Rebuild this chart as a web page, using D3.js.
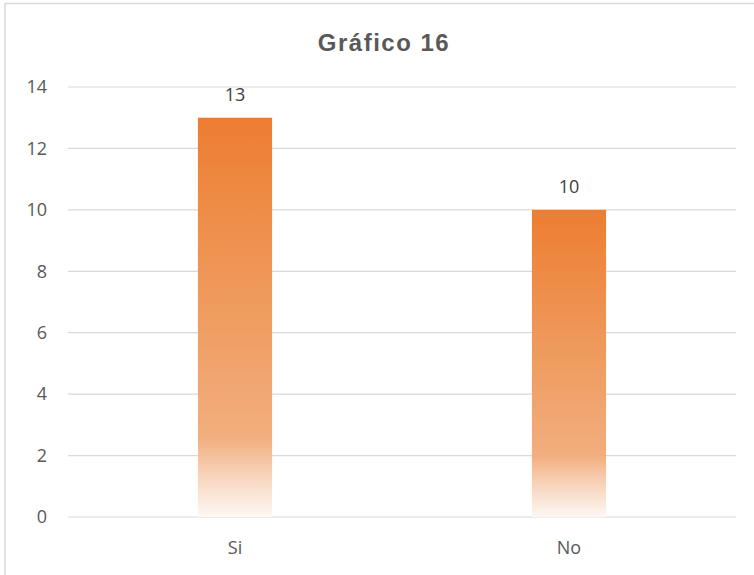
<!DOCTYPE html>
<html><head><meta charset="utf-8">
<script src="https://cdn.jsdelivr.net/npm/d3@7"></script>
<style>body{margin:0;background:#fff}svg{display:block}</style>
</head><body>
<script>
const categories = ["Si", "No"];
const values = [13, 10];
const yTicks = [0, 2, 4, 6, 8, 10, 12, 14];
const title = "Gráfico 16";

const W = 754, H = 575;
const svg = d3.select("body").append("svg").attr("width", W).attr("height", H);

const defs = svg.append("defs");
const grad = defs.append("linearGradient").attr("id", "barGrad")
  .attr("x1", 0).attr("y1", 0).attr("x2", 0).attr("y2", 1);
[[0, "#ED7D31", 1], [0.45, "#EF9A5C", 1], [0.8, "#F2AE7E", 1], [0.89, "#F7D2B8", 1], [1, "#FDF8F4", 1]]
  .forEach(([o, c, op]) => grad.append("stop").attr("offset", o).attr("stop-color", c).attr("stop-opacity", op));

// chart border (top & left visible)
svg.append("line").attr("x1", 5).attr("x2", W).attr("y1", 3.5).attr("y2", 3.5).attr("stroke", "#d9d9d9").attr("stroke-width", 1.5);
svg.append("line").attr("x1", 5).attr("x2", 5).attr("y1", 3).attr("y2", H).attr("stroke", "#d9d9d9").attr("stroke-width", 1.5);

const x = d3.scaleBand().domain(categories).range([68, 736]).paddingInner(0.778).paddingOuter(0.389);
const y = d3.scaleLinear().domain([0, 14]).range([517, 87]);

// gridlines
svg.append("g").selectAll("line").data(yTicks).join("line")
  .attr("x1", 68).attr("x2", 736)
  .attr("y1", d => y(d)).attr("y2", d => y(d))
  .attr("stroke", "#d9d9d9").attr("stroke-width", 1.2);

const font = "'Open Sans', sans-serif";

// y axis labels
const yAxis = d3.axisLeft(y).tickValues(yTicks).tickSize(0).tickPadding(0);
const gy = svg.append("g").attr("transform", "translate(47,0)").call(yAxis);
gy.select(".domain").remove();
gy.selectAll("text").attr("font-family", font).attr("font-size", 18).attr("fill", "#595959");

// x axis labels
const xAxis = d3.axisBottom(x).tickSize(0).tickPadding(0);
const gx = svg.append("g").attr("transform", "translate(0,541)").call(xAxis);
gx.select(".domain").remove();
gx.selectAll("text").attr("font-family", font).attr("font-size", 18).attr("fill", "#595959");

// bars
svg.append("g").selectAll("rect").data(values).join("rect")
  .attr("x", (d, i) => x(categories[i]))
  .attr("width", x.bandwidth())
  .attr("y", d => y(d))
  .attr("height", d => y(0) - y(d))
  .attr("fill", "url(#barGrad)");

// value labels
svg.append("g").selectAll("text").data(values).join("text")
  .attr("x", (d, i) => x(categories[i]) + x.bandwidth() / 2)
  .attr("y", d => y(d) - 17)
  .attr("text-anchor", "middle")
  .attr("font-family", font).attr("font-size", 18).attr("fill", "#404040")
  .text(d => d);

// title
svg.append("text").attr("x", 384).attr("y", 51).attr("text-anchor", "middle")
  .attr("font-family", "'Liberation Sans', Arial, sans-serif").attr("font-weight", "bold")
  .attr("font-size", 24).attr("letter-spacing", 1.5).attr("fill", "#595959").text(title);
</script>
</body></html>
